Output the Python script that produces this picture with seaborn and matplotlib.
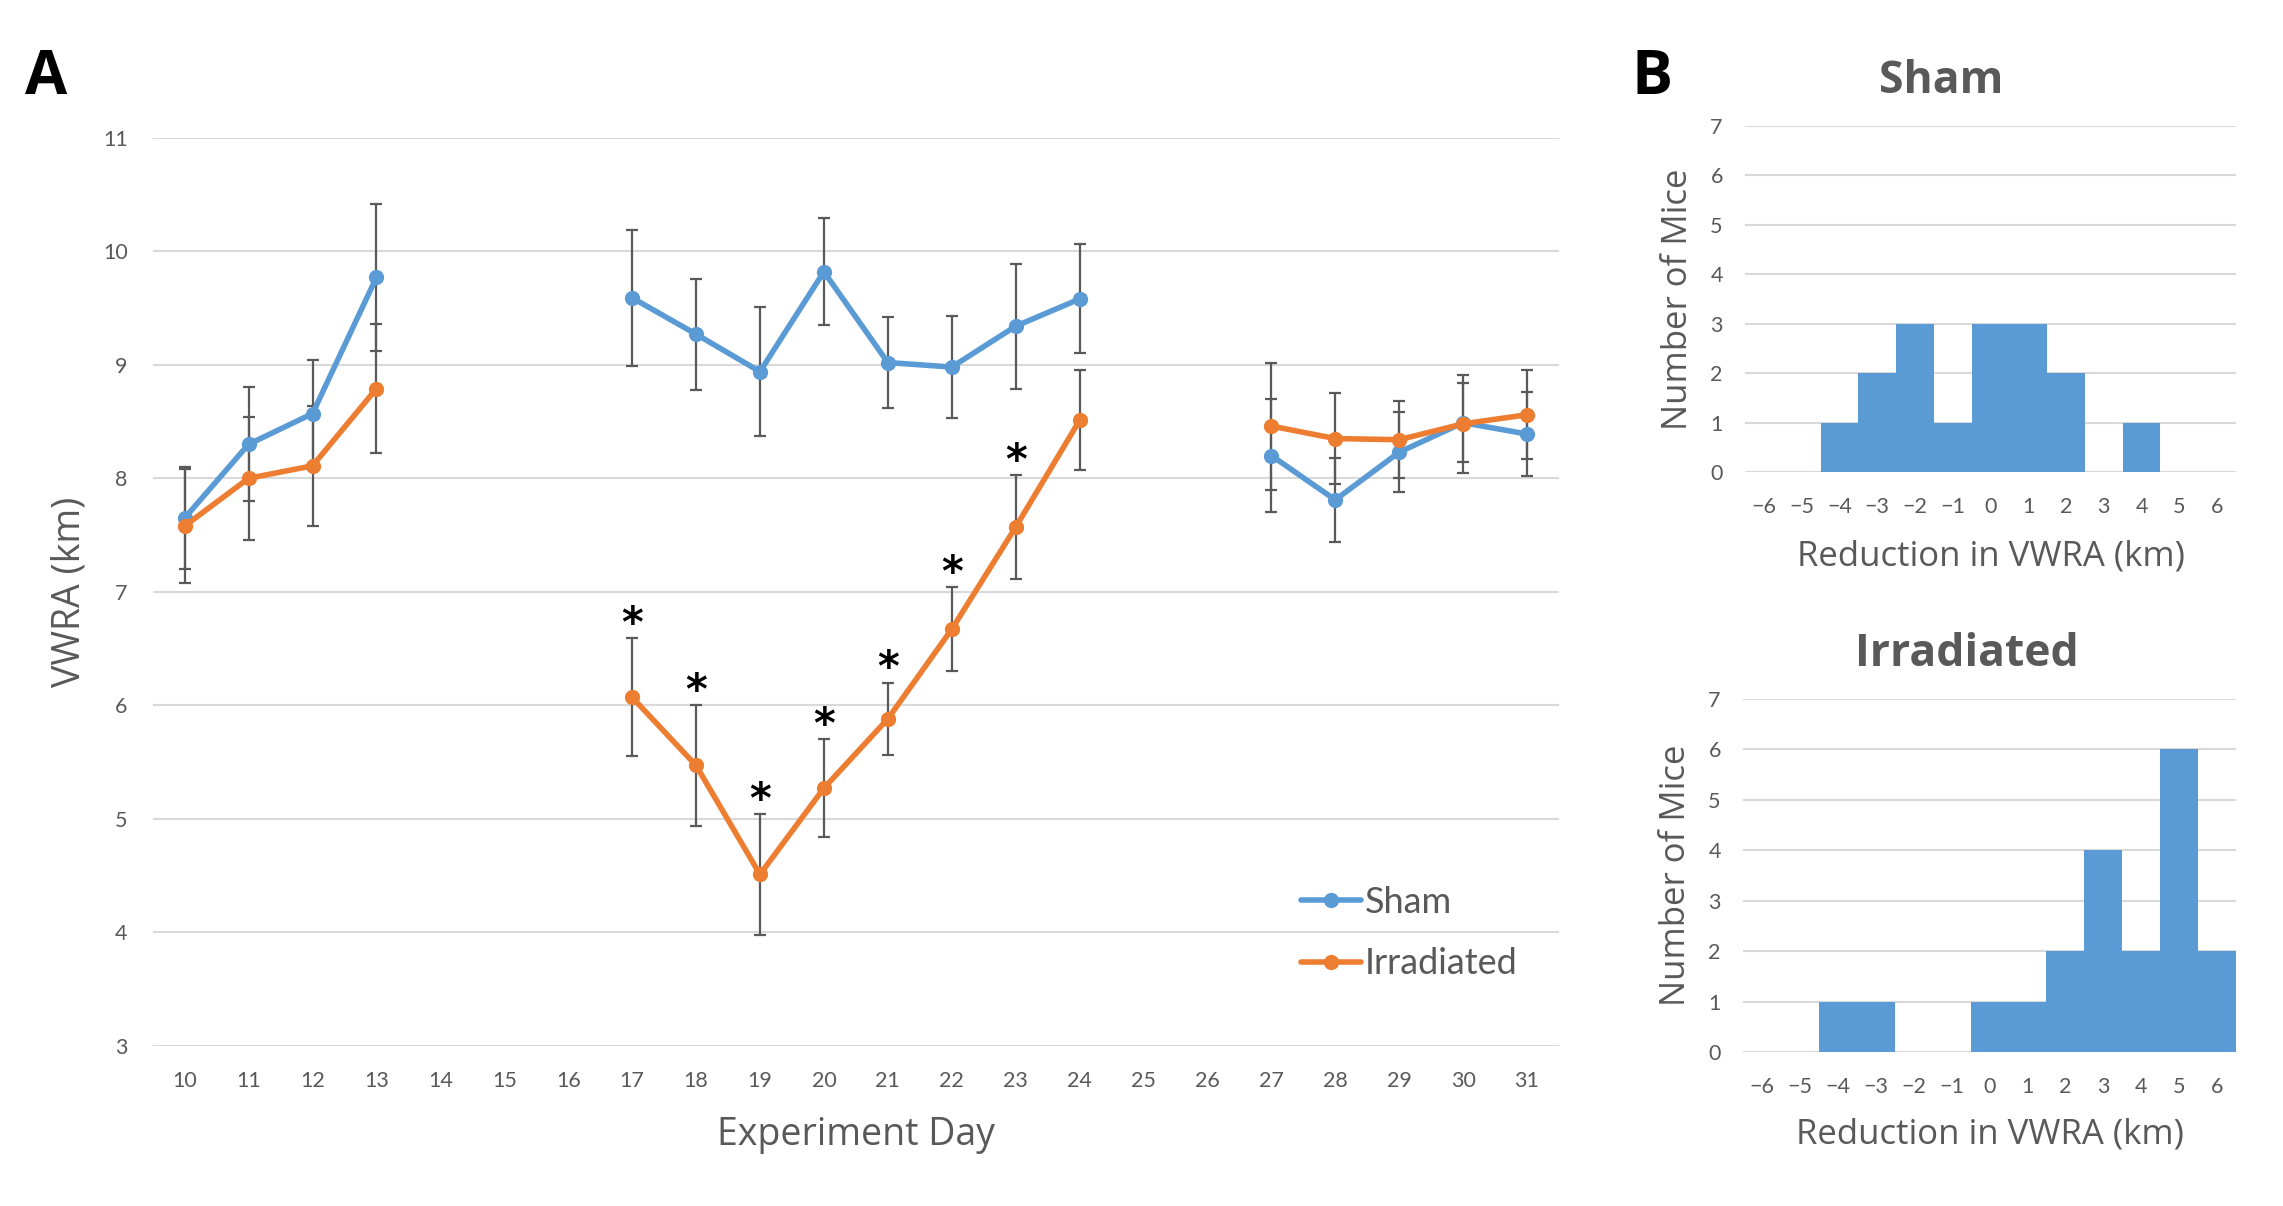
import numpy as np
import pandas as pd
import matplotlib
matplotlib.use("Agg")
import matplotlib.pyplot as plt
import seaborn as sns
from matplotlib.lines import Line2D

# ---------------- data ----------------
days = [10, 11, 12, 13, 17, 18, 19, 20, 21, 22, 23, 24, 27, 28, 29, 30, 31]
segment = [1, 1, 1, 1, 2, 2, 2, 2, 2, 2, 2, 2, 3, 3, 3, 3, 3]
sham_mean = [7.65, 8.30, 8.57, 9.77, 9.59, 9.27, 8.94, 9.82, 9.02, 8.98, 9.34, 9.58, 8.20, 7.81, 8.23, 8.49, 8.39]
sham_err = [0.45, 0.50, 0.47, 0.65, 0.60, 0.49, 0.57, 0.47, 0.40, 0.45, 0.55, 0.48, 0.50, 0.37, 0.35, 0.35, 0.37]
irr_mean = [7.58, 8.00, 8.11, 8.79, 6.07, 5.47, 4.51, 5.27, 5.88, 6.67, 7.57, 8.51, 8.46, 8.35, 8.34, 8.48, 8.56]
irr_err = [0.50, 0.54, 0.53, 0.57, 0.52, 0.53, 0.53, 0.43, 0.32, 0.37, 0.46, 0.44, 0.56, 0.40, 0.34, 0.43, 0.39]
star_days = [17, 18, 19, 20, 21, 22, 23]
day_ticks = list(range(10, 32))
vwra_ticks = list(range(3, 12))

hist_bins = list(range(-6, 7))
sham_counts = [0, 0, 1, 2, 3, 1, 3, 3, 2, 0, 1, 0, 0]
irr_counts = [0, 0, 1, 1, 0, 0, 1, 1, 2, 4, 2, 6, 2]
mice_ticks = list(range(0, 8))

groups = ["Sham", "Irradiated"]
colors = {"Sham": "#5B9BD5", "Irradiated": "#ED7D31"}
TXT = "#595959"
GRID = "#D9D9D9"

# ---------------- style ----------------
sns.set_style("white")
plt.rcParams["font.family"] = ["Lato", "DejaVu Sans"]
LAB = ["Open Sans", "DejaVu Sans"]

fig = plt.figure(figsize=(22.83, 12.06), dpi=100)

W, H = 2283.0, 1206.0
def axpos(l, r, t, b):
    return [l / W, 1 - b / H, (r - l) / W, (b - t) / H]

axA = fig.add_axes(axpos(152.7, 1559, 137.8, 1045.8))
axB1 = fig.add_axes(axpos(1745, 2236, 126, 472))
axB2 = fig.add_axes(axpos(1743, 2236, 699, 1052))

# ---------------- panel A ----------------
df = pd.DataFrame({
    "day": days * 2,
    "vwra": sham_mean + irr_mean,
    "err": sham_err + irr_err,
    "seg": segment * 2,
    "group": ["Sham"] * len(days) + ["Irradiated"] * len(days),
})

for g, m, e in [("Sham", sham_mean, sham_err), ("Irradiated", irr_mean, irr_err)]:
    axA.errorbar(days, m, yerr=e, fmt="none", ecolor=TXT, elinewidth=1.6,
                 capsize=4, capthick=1.6, zorder=1.5)

sns.lineplot(data=df, x="day", y="vwra", hue="group", hue_order=groups,
             units="seg", estimator=None, palette=colors, marker="o",
             markersize=11, markeredgewidth=0, linewidth=4, legend=False,
             ax=axA, zorder=2)

for d in star_days:
    i = days.index(d)
    axA.text(d, irr_mean[i] + irr_err[i] + 0.01, "*", ha="center", va="baseline",
             fontsize=30, fontweight="bold", color="black", family=["DejaVu Sans"])

axA.set_xlim(9.5, 31.5)
axA.set_ylim(3, 11)
axA.set_xticks(day_ticks)
axA.set_yticks(vwra_ticks)
axA.yaxis.grid(True, color=GRID, lw=1.5)
axA.xaxis.grid(False)
axA.set_axisbelow(True)
for s in axA.spines.values():
    s.set_visible(False)
axA.tick_params(axis="both", length=0, labelsize=15.5, colors=TXT)
axA.tick_params(axis="y", pad=18)
axA.tick_params(axis="x", pad=18)
axA.set_xlabel("Experiment Day", fontsize=27, color=TXT, family=LAB)
axA.set_ylabel("VWRA (km)", fontsize=27, color=TXT, family=LAB)
axA.xaxis.set_label_coords(0.5, -0.098)
axA.xaxis.label.set_va("center")
axA.yaxis.set_label_coords(-0.0595, 0.5)
axA.yaxis.label.set_va("center")

handles = [Line2D([], [], color=colors[g], lw=4, marker="o", markersize=11,
                  markeredgewidth=0) for g in groups]
leg = axA.legend(handles, groups, loc="center left",
                 bbox_to_anchor=(0.8166, 0.1242), frameon=False,
                 fontsize=26, handlelength=1.66, handletextpad=0.1,
                 labelspacing=0.8, borderpad=0, borderaxespad=0)
for t in leg.get_texts():
    t.set_color(TXT)

# ---------------- panel B ----------------
def hist_panel(ax, counts, title, tx, ty, xl_y):
    sns.histplot(x=hist_bins, weights=counts, discrete=True, shrink=1,
                 color="#5B9BD5", alpha=1, linewidth=0, ax=ax)
    ax.set_xlim(-6.5, 6.5)
    ax.set_ylim(0, 7)
    ax.set_xticks(hist_bins)
    ax.set_yticks(mice_ticks)
    ax.yaxis.grid(True, color=GRID, lw=1.5)
    ax.xaxis.grid(False)
    ax.set_axisbelow(True)
    for s in ax.spines.values():
        s.set_visible(False)
    ax.tick_params(axis="both", length=0, labelsize=15.5, colors=TXT)
    ax.tick_params(axis="y", pad=16)
    ax.tick_params(axis="x", pad=18)
    ax.set_xlabel("Reduction in VWRA (km)", fontsize=25, color=TXT, family=LAB)
    ax.set_ylabel("Number of Mice", fontsize=25, color=TXT, family=LAB)
    ax.xaxis.set_label_coords(0.5, xl_y)
    ax.xaxis.label.set_va("center")
    ax.yaxis.set_label_coords(-0.136, 0.5)
    ax.yaxis.label.set_va("center")
    ax.text(tx, ty, title, transform=ax.transAxes, ha="center", va="center",
            fontsize=32, fontweight="bold", color=TXT, family=LAB)

hist_panel(axB1, sham_counts, "Sham", 0.399, 1.130, -0.243)
hist_panel(axB2, irr_counts, "Irradiated", 0.454, 1.127, -0.235)

fig.text(46 / W, 1 - 78 / H, "A", ha="center", va="center", fontsize=44,
         fontweight="bold", color="black", family=LAB)
fig.text(1652 / W, 1 - 78 / H, "B", ha="center", va="center", fontsize=44,
         fontweight="bold", color="black", family=LAB)

fig.savefig("out.png", dpi=100, facecolor="white")
